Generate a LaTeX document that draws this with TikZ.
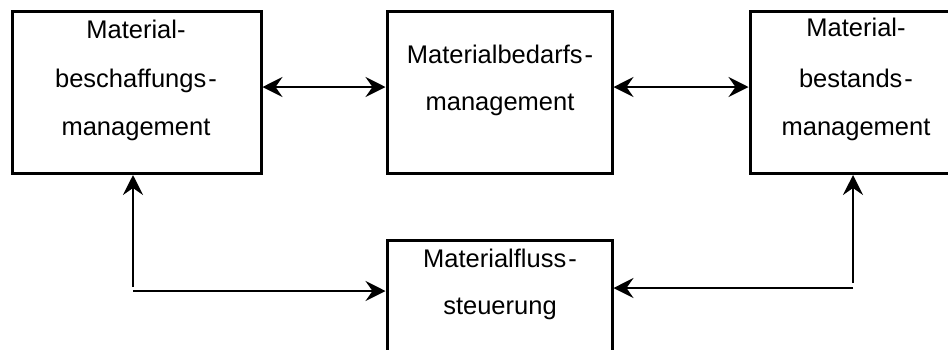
\documentclass[tikz,border=0pt]{standalone}
\usepackage{fontspec}
\setmainfont{Liberation Sans}
\usetikzlibrary{arrows.meta}
\tikzset{
  box/.style={draw=black, line width=3pt, rectangle, inner sep=0pt},
  lbl/.style={anchor=base, inner sep=0pt, font=\fontsize{25.5}{30}\selectfont},
  conn/.style={line width=1.8pt, -{Stealth[length=20pt, width=20pt, inset=7pt]}},
  dconn/.style={line width=1.8pt, {Stealth[length=20pt, width=20pt, inset=7pt]}-{Stealth[length=20pt, width=20pt, inset=7pt]}},
  plain/.style={line width=1.8pt}
}
\begin{document}
\begin{tikzpicture}[x=1pt, y=-1pt]
\useasboundingbox (0,0) rectangle (948,349);
\clip (0,0) rectangle (948,349);
% boxes
\node[box, minimum width=249pt, minimum height=162pt] (b1) at (136.5,92.5) {};
\node[box, minimum width=225pt, minimum height=162pt] (b2) at (499.5,92.5) {};
\node[box, minimum width=212pt, minimum height=162pt] (b3) at (856,92.5) {};
\node[box, minimum width=225pt, minimum height=162pt] (b4) at (499.5,321) {};
% texts
\node[lbl] (t11) at (136,38) {Material-};
\node[lbl] (t12) at (136,87) {beschaffungs\kern2pt-};
\node[lbl] (t13) at (136,135) {management};
\node[lbl] (t21) at (500,63) {Materialbedarfs\kern2pt-};
\node[lbl] (t22) at (500,110) {management};
\node[lbl] (t31) at (856,36) {Material-};
\node[lbl] (t32) at (856,87) {bestands\kern2pt-};
\node[lbl] (t33) at (856,135) {management};
\node[lbl] (t41) at (500,267) {Materialfluss\kern2pt-};
\node[lbl] (t42) at (500,314) {steuerung};
% connector corner points
\coordinate (c1) at (133,287);
\coordinate (c1h) at (133,291);
\coordinate (c2) at (853,283);
\coordinate (c2h) at (853,288);
% connectors
\draw[dconn] (b1.east |- 0,87) -- (b2.west |- 0,87);
\draw[dconn] (b2.east |- 0,87) -- (b3.west |- 0,87);
\draw[conn] (c1) -- (c1 |- b1.south);
\draw[conn] (c1h) -- (b4.west |- c1h);
\draw[conn] (c2) -- (c2 |- b3.south);
\draw[conn] (c2h) -- (b4.east |- c2h);
\end{tikzpicture}
\end{document}
